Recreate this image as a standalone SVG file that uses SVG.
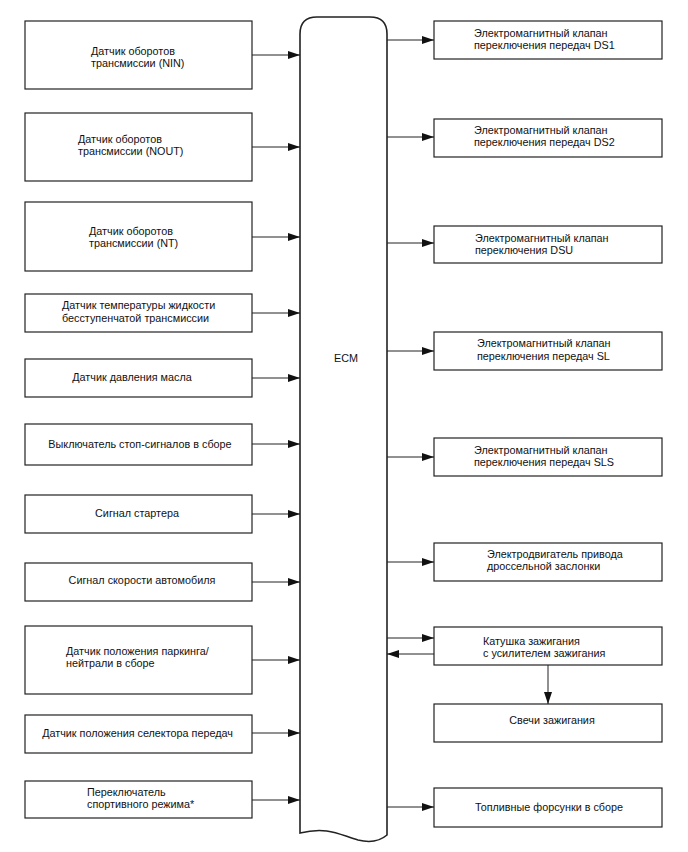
<svg xmlns="http://www.w3.org/2000/svg" width="688" height="852" viewBox="0 0 688 852">
<style>
.box{fill:#fff;stroke:#222;stroke-width:1.2}
.ecm{fill:#fff;stroke:#222;stroke-width:1.6}
.t{font-family:"Liberation Sans",Arial,sans-serif;font-size:10.8px;fill:#111}
.c{text-anchor:middle}
.ln{fill:none;stroke:#222;stroke-width:1}
</style>
<defs>
<marker id="ah" markerUnits="userSpaceOnUse" markerWidth="12" markerHeight="8" refX="12" refY="4" orient="auto">
<path d="M0,0 L12,4 L0,8 z" fill="#111"/>
</marker>
</defs>
<rect width="688" height="852" fill="#fff"/>
<g id="ecm">
<path class="ecm" d="M300,833 L300,34 Q300,17 317,17 L370,17 Q387,17 387,34 L387,835 C380,841 370,843 358,840 C340,835 328,826 300,833 Z"/>
<text class="t c" x="346" y="362">ECM</text>
</g>
<g id="n1"><rect class="box" x="25" y="21" width="227" height="68"/><text class="t" x="91" y="55">Датчик оборотов</text><text class="t" x="91" y="67">трансмиссии (NIN)</text></g>
<g id="n2"><rect class="box" x="25" y="113" width="227" height="68"/><text class="t" x="78" y="143">Датчик оборотов</text><text class="t" x="78" y="155">трансмиссии (NOUT)</text></g>
<g id="n3"><rect class="box" x="25" y="202" width="227" height="69"/><text class="t" x="89" y="235">Датчик оборотов</text><text class="t" x="89" y="247">трансмиссии (NT)</text></g>
<g id="n4"><rect class="box" x="25" y="294" width="227" height="38"/><text class="t" x="62" y="309">Датчик температуры жидкости</text><text class="t" x="62" y="322">бесступенчатой трансмиссии</text></g>
<g id="n5"><rect class="box" x="25" y="359" width="227" height="38"/><text class="t c" x="132" y="381">Датчик давления масла</text></g>
<g id="n6"><rect class="box" x="25" y="424" width="227" height="41"/><text class="t c" x="140" y="448">Выключатель стоп-сигналов в сборе</text></g>
<g id="n7"><rect class="box" x="25" y="495" width="227" height="38"/><text class="t c" x="137" y="517">Сигнал стартера</text></g>
<g id="n8"><rect class="box" x="25" y="563" width="227" height="38"/><text class="t c" x="142" y="584">Сигнал скорости автомобиля</text></g>
<g id="n9"><rect class="box" x="25" y="626" width="227" height="68"/><text class="t" x="66" y="655">Датчик положения паркинга/</text><text class="t" x="66" y="667">нейтрали в сборе</text></g>
<g id="n10"><rect class="box" x="25" y="715" width="227" height="38"/><text class="t c" x="137.5" y="737">Датчик положения селектора передач</text></g>
<g id="n11"><rect class="box" x="25" y="781" width="227" height="37"/><text class="t" x="87" y="796">Переключатель</text><text class="t" x="87" y="808">спортивного режима*</text></g>
<g id="r1"><rect class="box" x="434" y="21" width="228" height="38"/><text class="t" x="474" y="37">Электромагнитный клапан</text><text class="t" x="474" y="49">переключения передач DS1</text></g>
<g id="r2"><rect class="box" x="434" y="119" width="228" height="38"/><text class="t" x="474" y="134">Электромагнитный клапан</text><text class="t" x="474" y="146">переключения передач DS2</text></g>
<g id="r3"><rect class="box" x="434" y="226" width="228" height="37"/><text class="t" x="475" y="242">Электромагнитный клапан</text><text class="t" x="475" y="254">переключения DSU</text></g>
<g id="r4"><rect class="box" x="434" y="332" width="228" height="38"/><text class="t" x="477" y="347">Электромагнитный клапан</text><text class="t" x="477" y="360">переключения передач SL</text></g>
<g id="r5"><rect class="box" x="434" y="438" width="228" height="38"/><text class="t" x="474" y="454">Электромагнитный клапан</text><text class="t" x="474" y="466">переключения передач SLS</text></g>
<g id="r6"><rect class="box" x="434" y="543" width="228" height="38"/><text class="t" x="487" y="558">Электродвигатель привода</text><text class="t" x="487" y="570">дроссельной заслонки</text></g>
<g id="r7"><rect class="box" x="434" y="627" width="228" height="38"/><text class="t" x="483" y="645">Катушка зажигания</text><text class="t" x="483" y="657">с усилителем зажигания</text></g>
<g id="r8"><rect class="box" x="434" y="704" width="228" height="38"/><text class="t c" x="552" y="724">Свечи зажигания</text></g>
<g id="r9"><rect class="box" x="434" y="788" width="228" height="39"/><text class="t c" x="549" y="811">Топливные форсунки в сборе</text></g>
<g id="connectors">
<line class="ln" x1="252" y1="55" x2="300" y2="55" marker-end="url(#ah)"/>
<line class="ln" x1="252" y1="147" x2="300" y2="147" marker-end="url(#ah)"/>
<line class="ln" x1="252" y1="237" x2="300" y2="237" marker-end="url(#ah)"/>
<line class="ln" x1="252" y1="313" x2="300" y2="313" marker-end="url(#ah)"/>
<line class="ln" x1="252" y1="378" x2="300" y2="378" marker-end="url(#ah)"/>
<line class="ln" x1="252" y1="444" x2="300" y2="444" marker-end="url(#ah)"/>
<line class="ln" x1="252" y1="514" x2="300" y2="514" marker-end="url(#ah)"/>
<line class="ln" x1="252" y1="582" x2="300" y2="582" marker-end="url(#ah)"/>
<line class="ln" x1="252" y1="660" x2="300" y2="660" marker-end="url(#ah)"/>
<line class="ln" x1="252" y1="733" x2="300" y2="733" marker-end="url(#ah)"/>
<line class="ln" x1="252" y1="800" x2="300" y2="800" marker-end="url(#ah)"/>
<line class="ln" x1="387" y1="40" x2="434" y2="40" marker-end="url(#ah)"/>
<line class="ln" x1="387" y1="137" x2="434" y2="137" marker-end="url(#ah)"/>
<line class="ln" x1="387" y1="243" x2="434" y2="243" marker-end="url(#ah)"/>
<line class="ln" x1="387" y1="351" x2="434" y2="351" marker-end="url(#ah)"/>
<line class="ln" x1="387" y1="457" x2="434" y2="457" marker-end="url(#ah)"/>
<line class="ln" x1="387" y1="562" x2="434" y2="562" marker-end="url(#ah)"/>
<line class="ln" x1="387" y1="638" x2="434" y2="638" marker-end="url(#ah)"/>
<line class="ln" x1="434" y1="654" x2="387" y2="654" marker-end="url(#ah)"/>
<line class="ln" x1="548" y1="665" x2="548" y2="704" marker-end="url(#ah)"/>
<line class="ln" x1="387" y1="807" x2="434" y2="807" marker-end="url(#ah)"/>
</g>
</svg>
